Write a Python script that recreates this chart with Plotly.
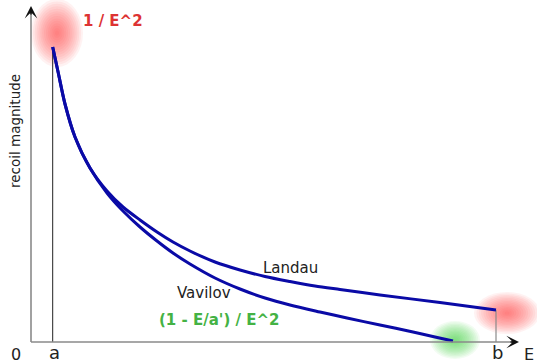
import plotly.graph_objects as go

# Schematic data (E = energy loss, M = recoil magnitude, arbitrary units)
landau_E = [21.7, 27.3, 34, 44, 59, 76, 92, 109, 126, 142, 159, 184, 209, 234, 259, 284, 309, 349, 409, 465]
landau_M = [295, 269, 238, 205, 174, 151, 135, 122, 110, 100, 91, 80, 72, 65.5, 60.5, 56, 52.5, 47, 39.5, 32]

vavilov_E = [21.7, 27.3, 34, 44, 59, 76, 92, 109, 126, 142, 159, 184, 209, 234, 259, 289, 316, 349, 382, 404, 422]
vavilov_M = [295, 269, 238, 205, 174, 149, 131, 115, 101, 89, 78, 64, 53, 44, 37, 30, 24, 17, 10, 5, 1]

E_a = 21.7     # lower limit a
E_b = 465      # upper limit b
E_max = 488    # axis extent
M_max = 336

fig = go.Figure()

LINE = "#0a0aa6"
for xs, ys in [(landau_E, landau_M), (vavilov_E, vavilov_M)]:
    fig.add_trace(go.Scatter(x=xs, y=ys, mode="lines",
                             line=dict(color=LINE, width=3, shape="spline", smoothing=0.8),
                             hoverinfo="skip", showlegend=False))

shapes = []
# glows (soft ellipses)
def glow(cx, cy, rx, ry, rgb, n=14, op=0.065):
    for i in range(n):
        f = 1 - i / n
        shapes.append(dict(type="circle", xref="x", yref="y", layer="below",
                           x0=cx - rx * f, x1=cx + rx * f, y0=cy - ry * f, y1=cy + ry * f,
                           fillcolor=f"rgb({rgb})", opacity=op, line=dict(width=0)))

glow(26, 309, 26, 34, "255,60,60")
glow(476, 29, 33, 21, "255,60,60")
glow(424, 2, 25, 19, "60,215,60")

# axes
shapes.append(dict(type="line", xref="x", yref="y", x0=0, y0=0, x1=E_max - 6, y1=0,
                   line=dict(color="#8a8a8a", width=1.6), layer="above"))
shapes.append(dict(type="line", xref="x", yref="y", x0=0, y0=0, x1=0, y1=M_max - 6,
                   line=dict(color="#8a8a8a", width=1.6), layer="above"))
# limits a and b
shapes.append(dict(type="line", xref="x", yref="y", x0=E_a, y0=0, x1=E_a, y1=landau_M[0],
                   line=dict(color="#222222", width=1), layer="below"))
shapes.append(dict(type="line", xref="x", yref="y", x0=E_b, y0=0, x1=E_b, y1=landau_M[-1],
                   line=dict(color="#8a8a8a", width=1.2), layer="below"))

F = "DejaVu Sans"
ann = []
# arrowheads
ann.append(dict(x=E_max, y=0, ax=E_max - 10, ay=0, xref="x", yref="y", axref="x", ayref="y",
                text="", showarrow=True, arrowhead=3, arrowsize=1.4, arrowwidth=1.5, arrowcolor="#111"))
ann.append(dict(x=0, y=M_max, ax=0, ay=M_max - 10, xref="x", yref="y", axref="x", ayref="y",
                text="", showarrow=True, arrowhead=3, arrowsize=1.4, arrowwidth=1.5, arrowcolor="#111"))

def label(x, y, t, size=15, color="#222222", bold=False, angle=0, xanchor="center"):
    ann.append(dict(x=x, y=y, xref="x", yref="y", text=(f"<b>{t}</b>" if bold else t),
                    showarrow=False, textangle=angle, xanchor=xanchor, yanchor="middle",
                    font=dict(family=F, size=size, color=color)))

label(82, 321, "1 / E^2", color="#dd3333", bold=True)
label(259, 74, "Landau")
label(173, 49, "Vavilov")
label(188, 22, "(1 - E/a') / E^2", color="#44b244", bold=True)
label(-16, 211, "recoil magnitude", size=13.5, angle=-90)
label(-15, -12, "0", size=16)
label(23, -10, "a", size=18)
label(E_b + 1, -10, "b", size=18)
label(491, -12, "E", size=16, xanchor="left")

fig.update_layout(
    width=537, height=363, margin=dict(l=0, r=0, t=0, b=0),
    paper_bgcolor="white", plot_bgcolor="white",
    xaxis=dict(range=[-31, 506], visible=False, fixedrange=True),
    yaxis=dict(range=[-21, 342], visible=False, fixedrange=True),
    shapes=shapes, annotations=ann, showlegend=False,
)

fig.write_html("out.html", post_script="document.body.style.margin='0';",
               config={"displayModeBar": False})
